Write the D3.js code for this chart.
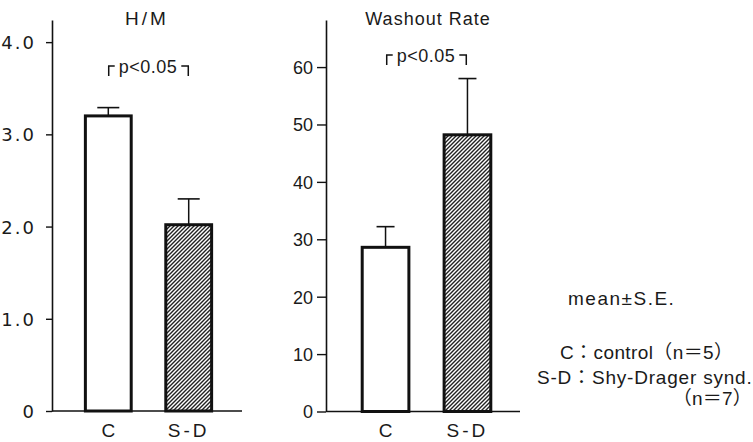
<!DOCTYPE html>
<html>
<head>
<meta charset="utf-8">
<script src="https://cdn.jsdelivr.net/npm/d3@7"></script>
<style>
  body { margin: 0; background: #fff; }
  svg { display: block; }
  text { fill: #1a1a1a; }
</style>
</head>
<body>
<svg id="chart" width="753" height="442"></svg>
<script>
// data
const groups = ["C", "S-D"];
const hmMean = [3.20, 2.02];
const hmSE = [0.09, 0.28];
const washMean = [28.6, 48.2];
const washSE = [3.6, 9.8];
const hmTicks = [0, 1, 2, 3, 4];
const washTicks = [0, 10, 20, 30, 40, 50, 60];
const pText = "p<0.05";
const legendLines = ["mean\u00b1S.E.", "C\uff1acontrol\uff08n\uff1d5\uff09", "S-D\uff1aShy-Drager synd.", "\uff08n\uff1d7\uff09"];

const svg = d3.select("#chart");
const sans = "'Liberation Sans', Arial, 'Noto Sans CJK JP', sans-serif";

// hatch for the S-D bars
svg.append("defs").append("pattern")
  .attr("id", "hatch")
  .attr("patternUnits", "userSpaceOnUse")
  .attr("width", 4).attr("height", 4)
  .call(p => {
    p.append("rect").attr("width", 4).attr("height", 4).attr("fill", "#fff");
    p.append("path")
      .attr("d", "M-1,1 l2,-2 M0,4 l4,-4 M3,5 l2,-2")
      .attr("stroke", "#222").attr("stroke-width", 1.4);
  });

// one panel = one bar chart with upward error bars
const drawPanel = (opt) => {
  const g = svg.append("g");
  const y = d3.scaleLinear().domain([0, opt.yMax]).range([opt.base, 20]);
  const x = d3.scaleBand().domain(groups).range(opt.xRange)
    .paddingInner(0.43).paddingOuter(0.21);

  const axis = d3.axisLeft(y).tickValues(opt.ticks).tickSize(opt.tickLen)
    .tickSizeOuter(0).tickPadding(opt.tickPad).tickFormat(opt.fmt);
  const ax = g.append("g").attr("transform", `translate(${opt.x0},0)`).call(axis);
  ax.select(".domain").attr("stroke", "#111").attr("stroke-width", 1.6);
  ax.selectAll(".tick line").attr("stroke", "#111").attr("stroke-width", 1.4);
  ax.selectAll(".tick text")
    .attr("font-family", opt.tickFont).attr("font-size", opt.tickSize)
    .attr("letter-spacing", opt.tickSpacing)
    .attr("fill", "#1a1a1a").attr("dy", "0.36em");

  // baseline
  g.append("line")
    .attr("x1", opt.x0).attr("x2", opt.xEnd)
    .attr("y1", y(0)).attr("y2", y(0))
    .attr("stroke", "#111").attr("stroke-width", 1.6);

  // error bars (up only)
  const err = g.selectAll(".err").data(groups).enter().append("g");
  err.append("line")
    .attr("x1", d => x(d) + x.bandwidth() / 2).attr("x2", d => x(d) + x.bandwidth() / 2)
    .attr("y1", (d, i) => y(opt.mean[i])).attr("y2", (d, i) => y(opt.mean[i] + opt.se[i]))
    .attr("stroke", "#111").attr("stroke-width", 1.5);
  err.append("line")
    .attr("x1", d => x(d) + x.bandwidth() / 2 - opt.cap).attr("x2", d => x(d) + x.bandwidth() / 2 + opt.cap)
    .attr("y1", (d, i) => y(opt.mean[i] + opt.se[i])).attr("y2", (d, i) => y(opt.mean[i] + opt.se[i]))
    .attr("stroke", "#111").attr("stroke-width", 1.6);

  g.selectAll(".bar").data(groups).enter().append("rect")
    .attr("x", d => x(d))
    .attr("y", (d, i) => y(opt.mean[i]))
    .attr("width", x.bandwidth())
    .attr("height", (d, i) => y(0) - y(opt.mean[i]))
    .attr("fill", (d, i) => i === 0 ? "#fff" : "url(#hatch)")
    .attr("stroke", "#111").attr("stroke-width", 3);

  // category labels
  g.selectAll(".cat").data(groups).enter().append("text")
    .attr("x", d => x(d) + x.bandwidth() / 2)
    .attr("y", 437)
    .attr("text-anchor", "middle")
    .attr("font-family", sans).attr("font-size", 19)
    .attr("letter-spacing", d => d.length > 1 ? 3 : 0)
    .text(d => d);

  // title
  g.append("text")
    .attr("x", opt.titleX).attr("y", 25)
    .attr("text-anchor", "middle")
    .attr("font-family", sans).attr("font-size", opt.titleSize)
    .attr("letter-spacing", opt.titleSpacing)
    .text(opt.title);

  // significance note with corner brackets
  const pt = g.append("text")
    .attr("x", opt.pX).attr("y", opt.pY)
    .attr("text-anchor", "middle")
    .attr("font-family", sans).attr("font-size", 18)
    .attr("letter-spacing", 0.5)
    .text(pText);
  const bb = pt.node().getBBox();
  const top = opt.pY - 7, bot = opt.pY + 3;
  const l = bb.x - 10, r = bb.x + bb.width + 11;
  g.append("path")
    .attr("d", `M${l},${bot}V${top}h6 M${r},${bot}V${top}h-7`)
    .attr("fill", "none").attr("stroke", "#111").attr("stroke-width", 1.5);
};

drawPanel({
  title: "H/M", titleX: 147, titleSize: 19, titleSpacing: 3,
  mean: hmMean, se: hmSE, yMax: 4.24, base: 411,
  ticks: hmTicks, fmt: d => d === 0 ? "0" : d3.format(".1f")(d),
  x0: 52, xEnd: 242, xRange: [68.5, 228.5], tickLen: 6, tickPad: 10,
  tickFont: "'DejaVu Sans', sans-serif", tickSize: 18, tickSpacing: 2, cap: 11,
  pX: 148, pY: 73
});

drawPanel({
  title: "Washout Rate", titleX: 428, titleSize: 18, titleSpacing: 1,
  mean: washMean, se: washSE, yMax: 68.2, base: 411.5,
  ticks: washTicks, fmt: d => String(d),
  x0: 326, xEnd: 520, xRange: [345, 508], tickLen: 9, tickPad: 4,
  tickFont: sans, tickSize: 18, tickSpacing: 0, cap: 9,
  pX: 426, pY: 62
});

// legend notes
const legendPos = [[568, 305, "start", 1.5], [560, 359, "start", 0.4], [537, 384, "start", 0.8], [752, 405, "end", 0.2]];
svg.selectAll(".note").data(legendLines).enter().append("text")
  .attr("x", (d, i) => legendPos[i][0])
  .attr("y", (d, i) => legendPos[i][1])
  .attr("text-anchor", (d, i) => legendPos[i][2])
  .attr("letter-spacing", (d, i) => legendPos[i][3])
  .attr("font-family", sans).attr("font-size", 19)
  .text(d => d);
</script>
</body>
</html>
